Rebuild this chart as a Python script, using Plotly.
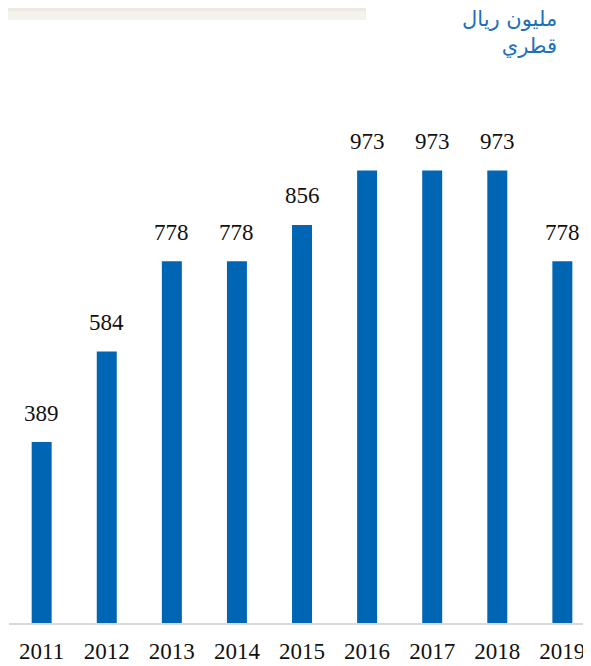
import plotly.graph_objects as go

years = ["2011", "2012", "2013", "2014", "2015", "2016", "2017", "2018", "2019"]
values = [389, 584, 778, 778, 856, 973, 973, 973, 778]
unit_title = "مليون ريال<br>قطري"

BAR = "#0066B3"
OFF = 8  # page body margin
W, H = 591 - OFF, 666 - OFF
L, R, T, B = 1, 0, 52, 43
pw, ph = W - L - R, H - T - B

def px(x):  # screen px -> paper
    return (x - OFF - L) / pw

def py(y):
    return (H - B - (y - OFF)) / ph

fig = go.Figure()
fig.add_trace(go.Bar(
    x=years, y=values, width=0.307,
    marker=dict(color=BAR, line=dict(width=0)),
    hoverinfo="x+y",
))

for i, v in enumerate(values):
    fig.add_annotation(
        x=i, y=v, text=str(v), showarrow=False,
        yanchor="middle", yshift=29,
        font=dict(family="Liberation Serif", size=23, color="#111111"),
    )

fig.add_annotation(
    xref="paper", yref="paper", x=px(559), y=py(5),
    xanchor="right", yanchor="top", align="right",
    text=unit_title, showarrow=False,
    font=dict(family="DejaVu Sans", size=21, color="#1C70BC"),
)

# decorative top band
fig.add_shape(type="rect", xref="paper", yref="paper",
              x0=px(-5), x1=px(366), y0=py(-5), y1=py(20),
              fillcolor="#F4F2EC", line=dict(width=0), layer="below")
fig.add_shape(type="rect", xref="paper", yref="paper",
              x0=px(-5), x1=px(366), y0=py(-5), y1=py(11),
              fillcolor="#ECE9E2", line=dict(width=0), layer="below")

fig.update_layout(
    width=W, height=H,
    margin=dict(l=L, r=R, t=T, b=B),
    paper_bgcolor="white", plot_bgcolor="white",
    showlegend=False,
    xaxis=dict(
        type="category", range=[-0.502, 8.44],
        showline=True, linecolor="#D9D9D9", linewidth=2,
        ticks="", showgrid=False, zeroline=False, ticklabelstandoff=6,
        tickfont=dict(family="Liberation Serif", size=23, color="#111111"),
    ),
    yaxis=dict(
        range=[0, 563 / 0.465], visible=False, showgrid=False, zeroline=False,
    ),
)

fig.write_html("out.html")
